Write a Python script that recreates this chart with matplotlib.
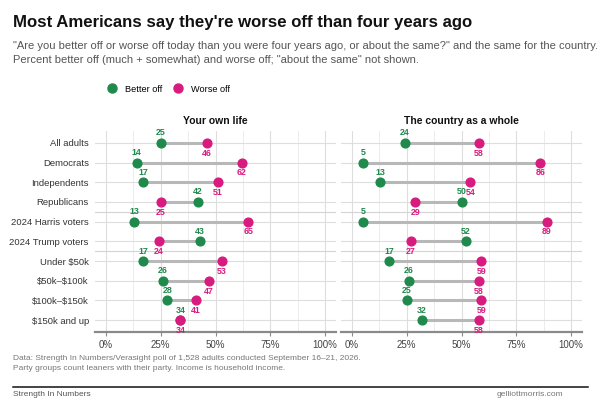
import matplotlib
matplotlib.use("Agg")
import matplotlib.pyplot as plt
from matplotlib.lines import Line2D

plt.rcParams['font.family'] = ['Liberation Sans', 'DejaVu Sans']

# data
categories = ["All adults", "Democrats", "Independents", "Republicans",
              "2024 Harris voters", "2024 Trump voters", "Under \\$50k",
              "\\$50k–\\$100k", "\\$100k–\\$150k", "\\$150k and up"]
own_better = [25, 14, 17, 42, 13, 43, 17, 26, 28, 34]
own_worse = [46, 62, 51, 25, 65, 24, 53, 47, 41, 34]
country_better = [24, 5, 13, 50, 5, 52, 17, 26, 25, 32]
country_worse = [58, 86, 54, 29, 89, 27, 59, 58, 59, 58]
panel_titles = ["Your own life", "The country as a whole"]
xticks = [0, 25, 50, 75, 100]
xticklabels = ["0%", "25%", "50%", "75%", "100%"]
separators = [3.5, 5.5]

GREEN = "#1f8a4c"
PINK = "#d81b7f"
SEG = "#b8b8b8"

W, H = 600, 400
fig = plt.figure(figsize=(6, 4), dpi=100)


def px(x, y):
    return x / W, 1 - y / H


def add_ax(left, right, top=131, bottom=332):
    return fig.add_axes([left / W, 1 - bottom / H, (right - left) / W, (bottom - top) / H])


ax1 = add_ax(95, 336)
ax2 = add_ax(341, 582)

for ax, better, worse, ttl in [(ax1, own_better, own_worse, panel_titles[0]),
                               (ax2, country_better, country_worse, panel_titles[1])]:
    ys = range(len(categories))
    ax.set_xlim(-5, 105)
    ax.set_ylim(len(categories) - 0.4, -0.6)
    # grid
    for v in range(0, 101, 25):
        ax.axvline(v, color="#dedede", lw=0.8, zorder=0)
    for v in [12.5, 37.5, 62.5, 87.5]:
        ax.axvline(v, color="#ececec", lw=0.7, zorder=0)
    for y in ys:
        ax.axhline(y, color="#dedede", lw=0.8, zorder=0)
    for s in separators:
        ax.axhline(s, color="#d4d4d4", lw=0.8, zorder=0)

    for y, b, w in zip(ys, better, worse):
        ax.plot([b, w], [y, y], color=SEG, lw=2.2, zorder=1, solid_capstyle="butt")
        ax.plot(b, y, "o", color=GREEN, ms=6.3, zorder=2)
        ax.plot(w, y, "o", color=PINK, ms=6.3, zorder=3)
        ax.annotate(str(b), (b, y), xytext=(0, 7.2), textcoords="offset points",
                    ha="center", va="center", fontsize=6.4, fontweight="bold", color=GREEN)
        ax.annotate(str(w), (w, y), xytext=(0, -7.4), textcoords="offset points",
                    ha="center", va="center", fontsize=6.4, fontweight="bold", color=PINK)

    for sp in ["top", "right", "left"]:
        ax.spines[sp].set_visible(False)
    ax.spines["bottom"].set_color("#8a8a8a")
    ax.spines["bottom"].set_linewidth(1.6)
    ax.set_xticks(xticks)
    ax.set_xticklabels(xticklabels)
    ax.tick_params(axis="x", length=3, color="#8a8a8a", labelsize=7, labelcolor="#444444", pad=2.5)
    ax.set_yticks(list(ys))
    ax.set_title(ttl, fontsize=7.5, fontweight="bold", color="#111111", pad=5)

ax1.set_yticklabels(categories)
ax1.tick_params(axis="y", length=0, labelsize=6.8, labelcolor="#333333", pad=4.5)
ax2.tick_params(axis="y", length=0, labelleft=False)

# header
fig.text(*px(13, 23), "Most Americans say they're worse off than four years ago",
         fontsize=12.1, fontweight="bold", color="#111111", va="center")
fig.text(*px(13, 46), "\"Are you better off or worse off today than you were four years ago, "
         "or about the same?\" and the same for the country.",
         fontsize=8, color="#555555", va="center")
fig.text(*px(13, 60), "Percent better off (much + somewhat) and worse off; "
         "\"about the same\" not shown.", fontsize=8, color="#555555", va="center")

handles = [Line2D([], [], marker="o", ls="", color=GREEN, ms=6.5),
           Line2D([], [], marker="o", ls="", color=PINK, ms=6.5)]
fig.legend(handles, ["Better off", "Worse off"], loc="center left",
           bbox_to_anchor=px(103, 89), ncol=2, frameon=False, fontsize=6.6,
           handletextpad=0.4, columnspacing=0.7, borderaxespad=0, borderpad=0)

# footer
fig.text(*px(13, 359), "Data: Strength In Numbers/Verasight poll of 1,528 adults conducted "
         "September 16–21, 2026.", fontsize=6, color="#777777", va="center")
fig.text(*px(13, 369), "Party groups count leaners with their party. Income is household income.",
         fontsize=6, color="#777777", va="center")
fig.add_artist(Line2D([13 / W, 588 / W], [1 - 387 / H] * 2, color="#111111", lw=1.1))
fig.text(*px(13, 395), "Strength In Numbers", fontsize=6, color="#555555", va="center")
fig.text(*px(563, 395), "gelliottmorris.com", fontsize=6, color="#777777",
         va="center", ha="right")

fig.savefig("out.png", dpi=100, facecolor="white")
